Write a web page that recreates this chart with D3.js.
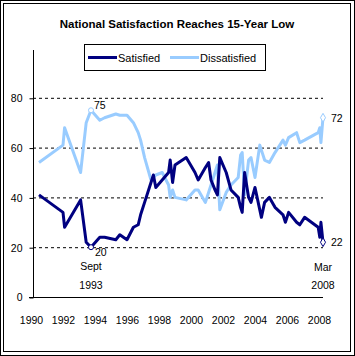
<!DOCTYPE html>
<html><head><meta charset="utf-8">
<script src="https://cdn.jsdelivr.net/npm/d3@7"></script>
<style>
html,body{margin:0;padding:0;background:#fff;}
text{font-family:"Liberation Sans",Arial,sans-serif;}
</style></head>
<body>
<svg id="c" width="355" height="356"></svg>
<script>
const title = "National Satisfaction Reaches 15-Year Low";
const seriesNames = ["Satisfied", "Dissatisfied"];
const dates = [1990.5,1992.0,1992.1,1993.1,1993.45,1993.75,1994.3,1994.6,1995.3,1995.55,1996.0,1996.4,1996.7,1996.85,1997.1,1997.5,1997.65,1997.8,1998.2,1998.6,1998.7,1998.85,1999.0,1999.7,2000.25,2000.45,2000.9,2001.1,2001.25,2001.5,2001.65,2001.8,2002.2,2002.5,2002.95,2003.1,2003.2,2003.35,2003.6,2003.75,2004.0,2004.3,2004.4,2004.6,2004.9,2005.25,2005.75,2005.9,2006.1,2006.6,2006.8,2007.1,2007.95,2008.05,2008.12,2008.25];
const satisfied = [41,34,28,39,22,20,24,24,23,25,23,28,29,33,38,46,49,44,47,50,55,46,53,56,50,47,52,54,47,43,41,56,50,43,40,36,34,50,40,38,44,35,32,38,40,36,33,30,34,30,29,32,28,24,30,22];
const dissatisfied = [54,61,68,50,70,75,71,72,73.5,73,73,70,66,63,56,47,48,49,50,45,40,43,40,39,43,43,38,42,45,50,53,35,42,45,48,57,58,41,55,56,48,61,59,55,54,58,63,61,64,66,62,63,66,68,62,72];
const yTicks = [0,20,40,60,80];
const xTicks = [1990,1992,1994,1996,1998,2000,2002,2004,2006,2008];
const colors = ["#000080", "#99CCFF"];

const svg = d3.select("#c");
svg.append("rect").attr("x",0.5).attr("y",0.5).attr("width",354).attr("height",355).attr("fill","none").attr("stroke","#000");
svg.append("rect").attr("x",3.5).attr("y",3.5).attr("width",347).attr("height",348).attr("fill","none").attr("stroke","#000");

svg.append("text").attr("x",177).attr("y",28).attr("text-anchor","middle")
  .attr("font-size","11.5px").attr("font-weight","bold").text(title);

const x = d3.scaleLinear().domain([1990,2008]).range([31,319]);
const y = d3.scaleLinear().domain([0,100]).range([297,48]);

// gridlines
svg.append("g").selectAll("line").data(yTicks.filter(d=>d>0)).join("line")
  .attr("x1",33).attr("x2",323).attr("y1",d=>y(d)+0.5).attr("y2",d=>y(d)+0.5)
  .attr("stroke","#000").attr("stroke-dasharray","3,3");

// y axis
const ya = svg.append("g").attr("transform","translate(33.5,0.5)")
  .call(d3.axisLeft(y).tickValues(yTicks).tickSize(4).tickPadding(7));
ya.select(".domain").remove();
ya.selectAll("text").attr("font-size","10.5px").attr("fill","#000").attr("font-family","'Liberation Sans',Arial,sans-serif");
svg.append("line").attr("x1",33.5).attr("x2",33.5).attr("y1",50).attr("y2",297).attr("stroke","#000");
svg.append("line").attr("x1",29).attr("x2",323).attr("y1",297.5).attr("y2",297.5).attr("stroke","#000");

// x axis labels
const xa = svg.append("g").attr("transform","translate(0,297)")
  .call(d3.axisBottom(x).tickValues(xTicks).tickFormat(d3.format("d")).tickSize(0).tickPadding(20));
xa.select(".domain").remove();
xa.selectAll("text").attr("font-size","10.5px").attr("fill","#000").attr("font-family","'Liberation Sans',Arial,sans-serif");

// lines
const series = [satisfied, dissatisfied];
const line = d3.line().x((d,i)=>x(dates[i])).y(d=>y(d));
[1,0].forEach(k=>{
  svg.append("path").datum(series[k]).attr("d",line).attr("fill","none")
    .attr("stroke",colors[k]).attr("stroke-width",3).attr("stroke-linejoin","round");
});

// markers
const iLow = satisfied.indexOf(d3.min(satisfied));
const iHigh = dissatisfied.indexOf(d3.max(dissatisfied));
const last = dates.length-1;
svg.append("circle").attr("cx",x(dates[iLow])).attr("cy",y(satisfied[iLow])).attr("r",2.5).attr("fill","#fff").attr("stroke",colors[0]).attr("stroke-width",1);
svg.append("circle").attr("cx",x(dates[iHigh])).attr("cy",y(dissatisfied[iHigh])).attr("r",2.5).attr("fill","#fff").attr("stroke",colors[1]).attr("stroke-width",1);
const diamond = d3.symbol().type(d3.symbolDiamond).size(22);
svg.append("path").attr("d",diamond).attr("transform",`translate(${x(dates[last])},${y(satisfied[last])})`).attr("fill","#fff").attr("stroke",colors[0]);
svg.append("path").attr("d",diamond).attr("transform",`translate(${x(dates[last])},${y(dissatisfied[last])})`).attr("fill","#fff").attr("stroke",colors[1]);

// annotations
const ann = svg.append("g").attr("font-size","10.5px").attr("fill","#000");
ann.append("text").attr("x",x(dates[iHigh])+3).attr("y",y(dissatisfied[iHigh])-1).text(dissatisfied[iHigh]);
ann.append("text").attr("x",x(dates[iLow])+4).attr("y",y(satisfied[iLow])+9).text(satisfied[iLow]);
ann.append("text").attr("x",x(dates[iLow])).attr("y",270).attr("text-anchor","middle").text("Sept");
ann.append("text").attr("x",x(dates[iLow])).attr("y",289).attr("text-anchor","middle").text("1993");
ann.append("text").attr("x",x(dates[last])+8).attr("y",y(dissatisfied[last])+4).text(dissatisfied[last]);
ann.append("text").attr("x",x(dates[last])+8).attr("y",y(satisfied[last])+4).text(satisfied[last]);
ann.append("text").attr("x",x(dates[last])).attr("y",271).attr("text-anchor","middle").text("Mar");
ann.append("text").attr("x",x(dates[last])).attr("y",289).attr("text-anchor","middle").text("2008");

// legend
const lg = svg.append("g");
lg.append("rect").attr("x",84.5).attr("y",44.5).attr("width",181).attr("height",26).attr("fill","#fff").attr("stroke","#000");
const lx = [88,170];
seriesNames.forEach((n,i)=>{
  lg.append("line").attr("x1",lx[i]).attr("x2",lx[i]+29).attr("y1",57.5).attr("y2",57.5).attr("stroke",colors[i]).attr("stroke-width",3);
  lg.append("text").attr("x",lx[i]+30).attr("y",61.5).attr("font-size","11px").text(n);
});
</script>
</body></html>
